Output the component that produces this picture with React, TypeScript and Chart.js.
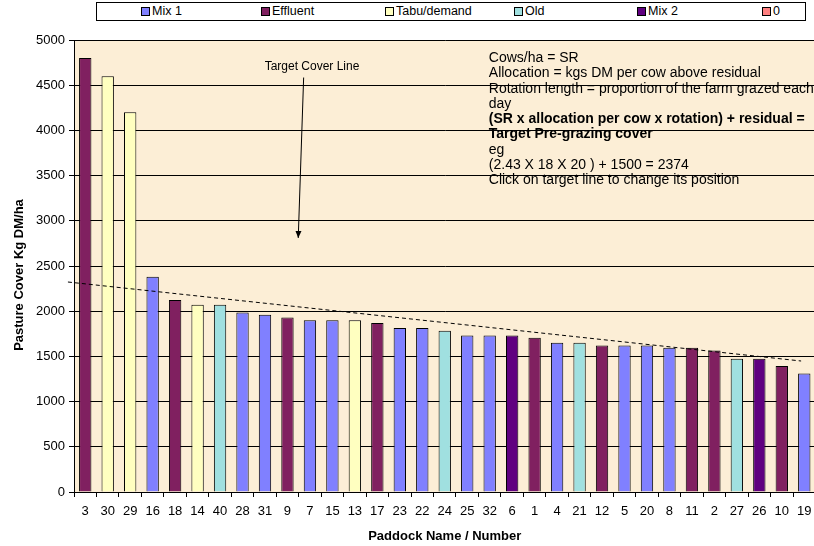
import React, { useEffect, useRef } from "react";
import { Chart, registerables } from "chart.js";

Chart.register(...registerables);

// ---- data ----
const paddocks = ["3","30","29","16","18","14","40","28","31","9","7","15","13","17","23","22","24","25","32","6","1","4","21","12","5","20","8","11","2","27","26","10","19"];
const cover = [4800,4600,4200,2380,2125,2070,2070,1985,1960,1930,1900,1900,1900,1870,1815,1815,1785,1730,1730,1730,1705,1650,1650,1620,1620,1620,1595,1595,1565,1475,1475,1395,1310];
const paddockType = ["Effluent","Tabu/demand","Tabu/demand","Mix 1","Effluent","Tabu/demand","Old","Mix 1","Mix 1","Effluent","Mix 1","Mix 1","Tabu/demand","Effluent","Mix 1","Mix 1","Old","Mix 1","Mix 1","Mix 2","Effluent","Mix 1","Old","Effluent","Mix 1","Mix 1","Mix 1","Effluent","Effluent","Old","Mix 2","Effluent","Mix 1"];
const seriesNames = ["Mix 1","Effluent","Tabu/demand","Old","Mix 2","0"];
const seriesColors = ["#8080FF","#802060","#FFFFC0","#A0E0E0","#600080","#FF8080"];
// target cover (dashed) line endpoints: category-index position and kg DM/ha
const targetX = [-0.77, 31.86];
const targetY = [2323, 1449];
const yMin = 0;
const yMax = 5000;
const yStep = 500;
const noteLines = [
  "Cows/ha = SR",
  "Allocation = kgs DM per cow above residual",
  "Rotation length = proportion of the farm grazed each",
  "day",
  "(SR x allocation per cow x rotation) + residual =",
  "Target Pre-grazing cover",
  "eg",
  "(2.43 X 18 X 20 ) + 1500 = 2374",
  "Click on target line to change its position",
];
const noteBold = [false,false,false,false,true,true,false,false,false];
const arrowLabel = "Target Cover Line";

const FONT = "'Liberation Sans', Arial, sans-serif";

const bgPlugin = {
  id: "plotBg",
  beforeDraw(chart: any) {
    const { ctx, chartArea: a } = chart;
    ctx.save();
    ctx.fillStyle = "#FCEED6";
    ctx.fillRect(a.left, a.top, a.right - a.left, a.bottom - a.top);
    ctx.restore();
  },
};

const notesPlugin = {
  id: "notes",
  afterDraw(chart: any) {
    const { ctx, chartArea: a } = chart;
    const xs = chart.scales.x2;
    const ys = chart.scales.y;
    ctx.save();
    // y-axis title
    ctx.fillStyle = "#000";
    ctx.font = `bold 13px ${FONT}`;
    ctx.textAlign = "center";
    ctx.textBaseline = "middle";
    ctx.translate(a.left - 55, chart.height / 2 + 2);
    ctx.rotate(-Math.PI / 2);
    ctx.fillText("Pasture Cover Kg DM/ha", 0, 0);
    ctx.setTransform(1, 0, 0, 1, 0, 0);

    // notes box
    const nx = xs.getPixelForValue(17.96);
    const ny = ys.getPixelForValue(4800);
    ctx.textAlign = "left";
    noteLines.forEach((t, i) => {
      ctx.font = `${noteBold[i] ? "bold " : ""}14px ${FONT}`;
      ctx.fillText(t, nx, ny + i * 15.3);
    });

    // target cover label + arrow
    ctx.font = `12px ${FONT}`;
    ctx.textAlign = "right";
    ctx.fillText(arrowLabel, xs.getPixelForValue(12.2), ys.getPixelForValue(4700));
    const x1 = xs.getPixelForValue(9.72), y1 = ys.getPixelForValue(4585);
    const x2 = xs.getPixelForValue(9.48), y2 = ys.getPixelForValue(2810);
    ctx.strokeStyle = "#000";
    ctx.lineWidth = 1;
    ctx.beginPath();
    ctx.moveTo(x1, y1);
    ctx.lineTo(x2, y2);
    ctx.stroke();
    const ang = Math.atan2(y2 - y1, x2 - x1);
    ctx.beginPath();
    ctx.moveTo(x2, y2);
    ctx.lineTo(x2 - 7 * Math.cos(ang) + 3 * Math.sin(ang), y2 - 7 * Math.sin(ang) - 3 * Math.cos(ang));
    ctx.lineTo(x2 - 7 * Math.cos(ang) - 3 * Math.sin(ang), y2 - 7 * Math.sin(ang) + 3 * Math.cos(ang));
    ctx.closePath();
    ctx.fillStyle = "#000";
    ctx.fill();
    ctx.restore();
  },
};

const legendLeft = [44, 164, 288, 417, 540, 665];

export default function App() {
  const ref = useRef<HTMLCanvasElement>(null);
  useEffect(() => {
    if (!ref.current) return;
    const barSets = seriesNames.map((name, si) => ({
      type: "bar" as const,
      label: name,
      data: cover.map((v, i) => (paddockType[i] === name ? v : null)),
      backgroundColor: seriesColors[si],
      borderColor: "#000",
      borderWidth: 1,
      grouped: false,
      barPercentage: 0.55,
      categoryPercentage: 1,
      order: 2,
    }));
    const chart = new Chart(ref.current, {
      type: "bar",
      data: {
        labels: paddocks,
        datasets: [
          {
            type: "line" as const,
            label: "Target",
            data: targetX.map((x, i) => ({ x, y: targetY[i] })),
            xAxisID: "x2",
            borderColor: "#000",
            borderWidth: 1,
            borderDash: [4, 3],
            pointRadius: 0,
            fill: false,
            clip: false,
            order: 0,
          } as any,
          ...barSets,
        ],
      },
      options: {
        animation: false,
        responsive: false,
        events: [],
        layout: { padding: { top: 40, left: 0, right: 0, bottom: 0 } },
        plugins: { legend: { display: false }, tooltip: { enabled: false } },
        scales: {
          x: {
            type: "category",
            offset: true,
            grid: { display: true, drawOnChartArea: false, offset: true, color: "#000", tickLength: 5 },
            border: { display: true, color: "#000" },
            ticks: { color: "#000", font: { family: FONT, size: 13 }, padding: 6.5, maxRotation: 0, autoSkip: false },
            title: { display: true, text: "Paddock Name / Number", color: "#000", font: { family: FONT, size: 13, weight: "bold" }, padding: { top: 0, bottom: 2 } },
            afterFit: (s: any) => { s.height = 54; },
          },
          x2: {
            type: "linear",
            display: false,
            offset: false,
            grace: 0,
            bounds: "ticks",
            min: -0.5,
            max: paddocks.length - 0.5,
          },
          y: {
            type: "linear",
            min: yMin,
            max: yMax,
            ticks: { stepSize: yStep, color: "#000", font: { family: FONT, size: 13 }, padding: 4, callback: (v: any) => String(v) },
            grid: { color: "#000", tickLength: 5 },
            border: { display: true, color: "#000" },
            afterFit: (s: any) => { s.width = 74; },
          },
        },
      },
      plugins: [bgPlugin, notesPlugin],
    });
    return () => chart.destroy();
  }, []);

  return (
    <div style={{ position: "fixed", left: 0, top: 0, width: 814, height: 546, overflow: "hidden", background: "#fff", fontFamily: FONT }}>
      <canvas ref={ref} width={818} height={546} style={{ position: "absolute", left: 0, top: 0, width: 818, height: 546 }} />
      <div style={{ position: "absolute", left: 96, top: 2, width: 708, height: 17, border: "1px solid #000", background: "#fff", fontSize: 12.5, color: "#000" }}>
        {seriesNames.map((n, i) => (
          <div key={n} style={{ position: "absolute", left: legendLeft[i], top: 0, height: 17, lineHeight: "17px", display: "flex", alignItems: "center", whiteSpace: "nowrap" }}>
            <span style={{ display: "inline-block", width: 7, height: 7, border: "1px solid #000", background: seriesColors[i], marginRight: 2 }} />
            {n}
          </div>
        ))}
      </div>
    </div>
  );
}
